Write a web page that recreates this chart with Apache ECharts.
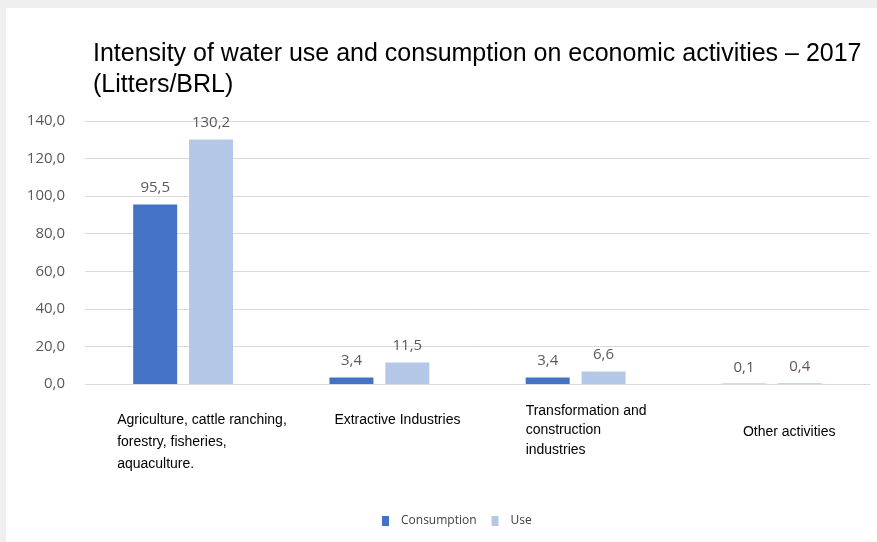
<!DOCTYPE html>
<html><head><meta charset="utf-8">
<script src="https://cdn.jsdelivr.net/npm/echarts@6/dist/echarts.min.js"></script>
<style>
html,body{margin:0;padding:0;background:#efefef;width:877px;height:542px;overflow:hidden}
#c{position:absolute;left:6px;top:8px;width:871px;height:534px;background:#fff}
</style></head>
<body><div id="c"></div>
<script>
const categories = ["Agriculture, cattle ranching,\nforestry, fisheries,\naquaculture.", "Extractive Industries", "Transformation and\nconstruction\nindustries", "Other activities"];
const consumption = [95.5, 3.4, 3.4, 0.1];
const use = [130.2, 11.5, 6.6, 0.4];
const yTicks = [0, 20, 40, 60, 80, 100, 120, 140];
const seriesNames = ["Consumption", "Use"];

const fmt = v => v.toFixed(1).replace('.', ',');
const chart = echarts.init(document.getElementById('c'));
const labelStyle = {show: true, position: 'top', distance: 9, color: '#595959', fontSize: 15, fontFamily: 'Open Sans', formatter: p => fmt(p.value)};
chart.setOption({
  animation: false,
  title: {text: 'Intensity of water use and consumption on economic activities \u2013 2017\n(Litters/BRL)', left: 82, top: 26,
    textStyle: {fontFamily: 'Liberation Sans', fontWeight: 'normal', fontSize: 25, color: '#000', lineHeight: 31}},
  legend: {data: seriesNames, bottom: 10, left: 371, icon: 'rect', itemWidth: 7, itemHeight: 10, itemGap: 15,
    textStyle: {fontSize: 12, color: '#404040', fontFamily: 'Open Sans', padding: [0, 0, 0, 7]}},
  grid: {left: 79, right: 7, top: 113, bottom: 158},
  xAxis: {type: 'category', data: categories, axisTick: {show: false}, axisLabel: {show: false},
    axisLine: {lineStyle: {color: '#d9d9d9', width: 1}}},
  yAxis: {type: 'value', min: yTicks[0], max: yTicks[yTicks.length - 1], interval: 20,
    axisLine: {show: false}, axisTick: {show: false},
    axisLabel: {formatter: v => fmt(v), fontSize: 15, color: '#595959', fontFamily: 'Open Sans', margin: 20},
    splitLine: {lineStyle: {color: '#d9d9d9'}}},
  series: [
    {name: seriesNames[0], type: 'bar', data: consumption, barWidth: 44, barGap: '27%', itemStyle: {color: '#4472C4'}, label: labelStyle},
    {name: seriesNames[1], type: 'bar', data: use, barWidth: 44, itemStyle: {color: '#B4C7E7'}, label: labelStyle}
  ]
});
const offs = [[-66, 401, 22], [-45, 401, 22], [-50, 393, 19.5], [-29, 413, 22]];
const g = categories.map((c, i) => {
  const x = chart.convertToPixel({xAxisIndex: 0}, i);
  return {type: 'text', left: x + offs[i][0], top: offs[i][1],
    style: {text: c, fontSize: 14, lineHeight: offs[i][2], fill: '#000', fontFamily: 'Liberation Sans'}};
});
chart.setOption({graphic: g});
</script></body></html>
